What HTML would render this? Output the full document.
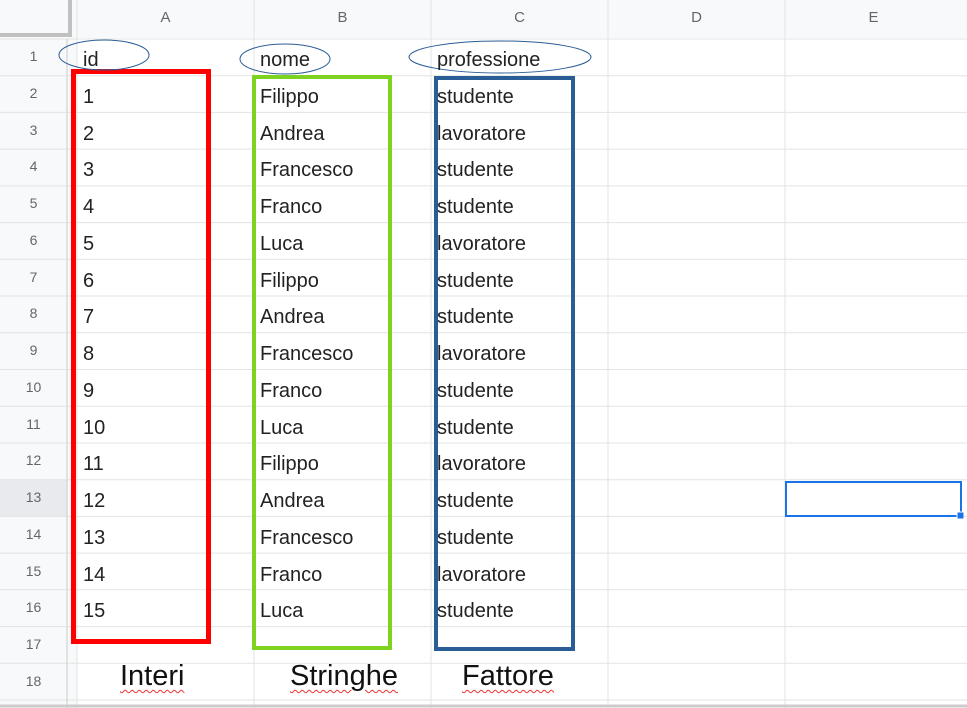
<!DOCTYPE html>
<html><head><style>
body{margin:0;width:967px;height:708px;overflow:hidden;background:#fff;font-family:"Liberation Sans",Arial,sans-serif;position:relative}
.a{position:absolute}
.t{position:absolute;font-size:20px;color:#222;line-height:20px;margin-top:2px}
.c1{left:83px}.c2{left:260px}.c3{left:437px}
.rn{position:absolute;left:0;width:67px;text-align:center;font-size:14px;color:#666;line-height:16px}
.ch{position:absolute;top:0;height:38px;line-height:36px;text-align:center;font-size:15px;color:#666}
.lab{position:absolute;font-size:29px;color:#111;text-decoration:underline wavy #e33;text-decoration-thickness:1px;text-underline-offset:4px}
</style></head><body>
<svg class="a" style="left:0;top:0" width="967" height="708">
<rect x="0" y="0" width="967" height="38" fill="#f8f9fa"/>
<rect x="0" y="0" width="77" height="708" fill="#f8f9fa"/>
<rect x="0" y="480" width="67" height="36" fill="#e8eaed"/>
<g stroke="#e2e3e3" stroke-width="1">
<line x1="77" y1="0" x2="77" y2="708"/><line x1="254" y1="0" x2="254" y2="708"/><line x1="431" y1="0" x2="431" y2="708"/><line x1="608" y1="0" x2="608" y2="708"/><line x1="785" y1="0" x2="785" y2="708"/>
<line x1="0" y1="39" x2="967" y2="39"/>
<line x1="0" y1="75.7" x2="967" y2="75.7"/><line x1="0" y1="112.4" x2="967" y2="112.4"/><line x1="0" y1="149.1" x2="967" y2="149.1"/><line x1="0" y1="185.9" x2="967" y2="185.9"/><line x1="0" y1="222.6" x2="967" y2="222.6"/><line x1="0" y1="259.3" x2="967" y2="259.3"/><line x1="0" y1="296" x2="967" y2="296"/><line x1="0" y1="332.8" x2="967" y2="332.8"/><line x1="0" y1="369.5" x2="967" y2="369.5"/><line x1="0" y1="406.2" x2="967" y2="406.2"/><line x1="0" y1="443" x2="967" y2="443"/><line x1="0" y1="479.7" x2="967" y2="479.7"/><line x1="0" y1="516.4" x2="967" y2="516.4"/><line x1="0" y1="553.1" x2="967" y2="553.1"/><line x1="0" y1="589.8" x2="967" y2="589.8"/><line x1="0" y1="626.6" x2="967" y2="626.6"/><line x1="0" y1="663.3" x2="967" y2="663.3"/><line x1="0" y1="700" x2="967" y2="700"/>
</g>
<line x1="67" y1="39" x2="67" y2="708" stroke="#ccc"/>
<path d="M0 35H70V0" fill="none" stroke="#c0c0c0" stroke-width="4"/>
<line x1="0" y1="706" x2="967" y2="706" stroke="#ccc" stroke-width="3"/>
<rect x="73.5" y="71.5" width="135" height="570" fill="none" stroke="#f00" stroke-width="5"/>
<rect x="254" y="77" width="136" height="571" fill="none" stroke="#7ed321" stroke-width="4"/>
<rect x="436" y="78" width="137" height="571" fill="none" stroke="#2a5d96" stroke-width="4"/>
<ellipse cx="104" cy="55" rx="45" ry="15" fill="none" stroke="#2a5d96" stroke-width="1"/>
<ellipse cx="285" cy="59" rx="45" ry="15" fill="none" stroke="#2a5d96" stroke-width="1"/>
<ellipse cx="500" cy="57" rx="91" ry="16" fill="none" stroke="#2a5d96" stroke-width="1"/>
<rect x="786" y="482" width="175" height="34" fill="none" stroke="#1a73e8" stroke-width="2"/>
<rect x="957" y="512" width="7" height="7" fill="#1a73e8" stroke="#fff" stroke-width="1"/>
</svg>
<div class="ch" style="left:77px;width:177px">A</div>
<div class="ch" style="left:254px;width:177px">B</div>
<div class="ch" style="left:431px;width:177px">C</div>
<div class="ch" style="left:608px;width:177px">D</div>
<div class="ch" style="left:785px;width:177px">E</div>

<div class="rn" style="top:48px">1</div>
<div class="rn" style="top:85px">2</div>
<div class="rn" style="top:122px">3</div>
<div class="rn" style="top:158px">4</div>
<div class="rn" style="top:195px">5</div>
<div class="rn" style="top:232px">6</div>
<div class="rn" style="top:269px">7</div>
<div class="rn" style="top:305px">8</div>
<div class="rn" style="top:342px">9</div>
<div class="rn" style="top:379px">10</div>
<div class="rn" style="top:416px">11</div>
<div class="rn" style="top:452px">12</div>
<div class="rn" style="top:489px">13</div>
<div class="rn" style="top:526px">14</div>
<div class="rn" style="top:563px">15</div>
<div class="rn" style="top:599px">16</div>
<div class="rn" style="top:636px">17</div>
<div class="rn" style="top:673px">18</div>

<div class="t c1" style="top:48px">id</div><div class="t c2" style="top:48px">nome</div><div class="t c3" style="top:48px">professione</div>
<div class="t c1" style="top:85px">1</div><div class="t c2" style="top:85px">Filippo</div><div class="t c3" style="top:85px">studente</div>
<div class="t c1" style="top:122px">2</div><div class="t c2" style="top:122px">Andrea</div><div class="t c3" style="top:122px">lavoratore</div>
<div class="t c1" style="top:158px">3</div><div class="t c2" style="top:158px">Francesco</div><div class="t c3" style="top:158px">studente</div>
<div class="t c1" style="top:195px">4</div><div class="t c2" style="top:195px">Franco</div><div class="t c3" style="top:195px">studente</div>
<div class="t c1" style="top:232px">5</div><div class="t c2" style="top:232px">Luca</div><div class="t c3" style="top:232px">lavoratore</div>
<div class="t c1" style="top:269px">6</div><div class="t c2" style="top:269px">Filippo</div><div class="t c3" style="top:269px">studente</div>
<div class="t c1" style="top:305px">7</div><div class="t c2" style="top:305px">Andrea</div><div class="t c3" style="top:305px">studente</div>
<div class="t c1" style="top:342px">8</div><div class="t c2" style="top:342px">Francesco</div><div class="t c3" style="top:342px">lavoratore</div>
<div class="t c1" style="top:379px">9</div><div class="t c2" style="top:379px">Franco</div><div class="t c3" style="top:379px">studente</div>
<div class="t c1" style="top:416px">10</div><div class="t c2" style="top:416px">Luca</div><div class="t c3" style="top:416px">studente</div>
<div class="t c1" style="top:452px">11</div><div class="t c2" style="top:452px">Filippo</div><div class="t c3" style="top:452px">lavoratore</div>
<div class="t c1" style="top:489px">12</div><div class="t c2" style="top:489px">Andrea</div><div class="t c3" style="top:489px">studente</div>
<div class="t c1" style="top:526px">13</div><div class="t c2" style="top:526px">Francesco</div><div class="t c3" style="top:526px">studente</div>
<div class="t c1" style="top:563px">14</div><div class="t c2" style="top:563px">Franco</div><div class="t c3" style="top:563px">lavoratore</div>
<div class="t c1" style="top:599px">15</div><div class="t c2" style="top:599px">Luca</div><div class="t c3" style="top:599px">studente</div>

<div class="lab" style="left:120px;top:660px">Interi</div>
<div class="lab" style="left:290px;top:660px">Stringhe</div>
<div class="lab" style="left:462px;top:660px">Fattore</div>
</body></html>
